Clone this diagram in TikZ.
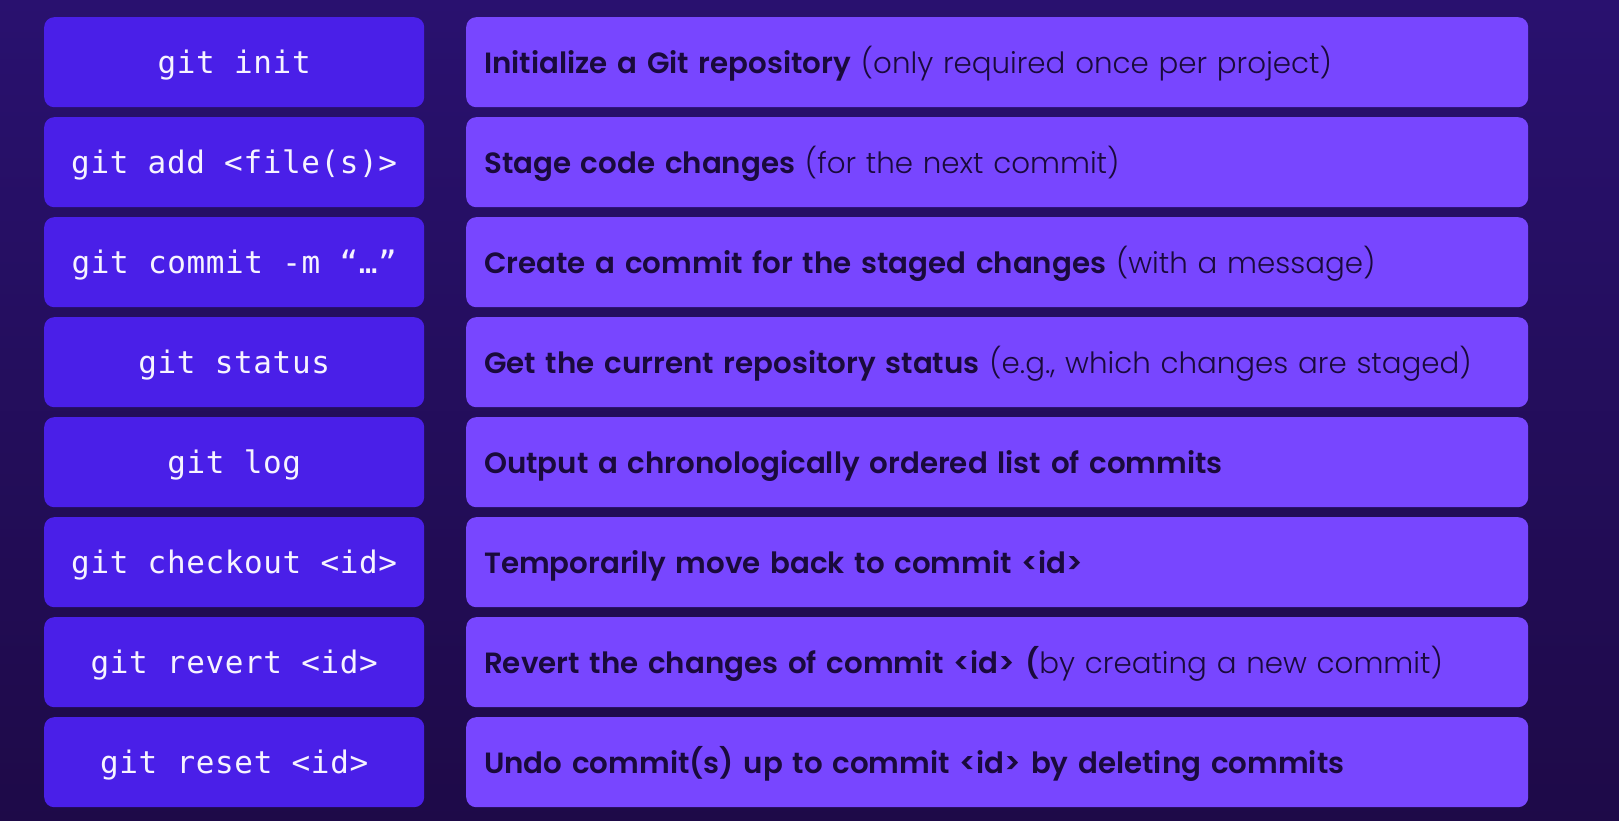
\documentclass[tikz,border=0pt]{standalone}
\usepackage{fontspec}
\setmainfont{Poppins}[UprightFont={* Light},BoldFont={* SemiBold}]
\newfontfamily\cmdfont{DejaVu Sans Mono}[LetterSpace=2.0]
\newcommand\cmdsp{\hspace*{0.622em}}
\definecolor{bgtop}{HTML}{29116F}
\definecolor{bgbot}{HTML}{1E0A48}
\definecolor{cmdfill}{HTML}{4A1FE8}
\definecolor{descfill}{HTML}{7846FF}
\definecolor{desctext}{HTML}{1A0A3C}
\definecolor{cmdtext}{HTML}{F6F3FF}
\begin{document}
\begin{tikzpicture}[x=1pt,y=-1pt,
  cmdbox/.style={anchor=north west, fill=cmdfill, rounded corners=10pt,
    inner sep=0pt, text width=380pt, align=center, text height=56pt, text depth=34pt,
    font=\cmdfont\fontsize{31}{38}\selectfont, text=cmdtext},
  descbox/.style={anchor=north west, fill=descfill, rounded corners=10pt,
    inner xsep=18pt, inner ysep=0pt, text width=1026pt, align=left, text height=56pt, text depth=34pt,
    font=\fontsize{29.3}{34}\selectfont, text=desctext}]
\shade[top color=bgtop, bottom color=bgbot] (0,0) rectangle (1619,821);
\node[cmdbox] (c1) at (44,17) {git\cmdsp init};
\node[cmdbox] (c2) at (44,117) {git\cmdsp add\cmdsp <file(s)>};
\node[cmdbox] (c3) at (44,217) {git\cmdsp commit\cmdsp -m\cmdsp “…”};
\node[cmdbox] (c4) at (44,317) {git\cmdsp status};
\node[cmdbox] (c5) at (44,417) {git\cmdsp log};
\node[cmdbox] (c6) at (44,517) {git\cmdsp checkout\cmdsp <id>};
\node[cmdbox] (c7) at (44,617) {git\cmdsp revert\cmdsp <id>};
\node[cmdbox] (c8) at (44,717) {git\cmdsp reset\cmdsp <id>};
\node[descbox] (d1) at (466,17) {\textbf{Initialize a Git repository} (only required once per project)};
\node[descbox] (d2) at (466,117) {\textbf{Stage code changes} (for the next commit)};
\node[descbox] (d3) at (466,217) {\textbf{Create a commit for the staged changes} (with a message)};
\node[descbox] (d4) at (466,317) {\textbf{Get the current repository status} (e.g., which changes are staged)};
\node[descbox] (d5) at (466,417) {\textbf{Output a chronologically ordered list of commits}};
\node[descbox] (d6) at (466,517) {\textbf{Temporarily move back to commit <id>}};
\node[descbox] (d7) at (466,617) {\textbf{Revert the changes of commit <id> (}by creating a new commit)};
\node[descbox] (d8) at (466,717) {\textbf{Undo commit(s) up to commit <id> by deleting commits}};
\end{tikzpicture}
\end{document}
